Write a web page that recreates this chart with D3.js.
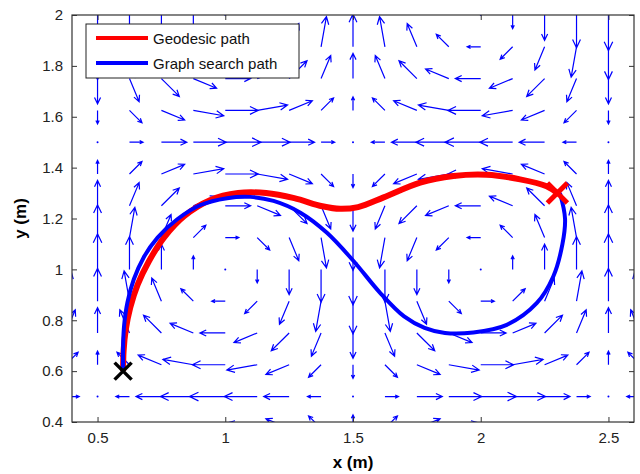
<!DOCTYPE html>
<html>
<head>
<meta charset="utf-8">
<script src="https://cdn.jsdelivr.net/npm/d3@7"></script>
<style>
  body { margin: 0; background: #fff; }
  text { font-family: "Liberation Sans", Arial, sans-serif; }
</style>
</head>
<body>
<div id="wrapper"></div>
<script>
// quiver grid
const gridX = [0.375, 0.5, 0.625, 0.75, 0.875, 1, 1.125, 1.25, 1.375, 1.5, 1.625, 1.75, 1.875, 2, 2.125, 2.25, 2.375, 2.5, 2.625]
const gridY = [0.375, 0.5, 0.625, 0.75, 0.875, 1, 1.125, 1.25, 1.375, 1.5, 1.625, 1.75, 1.875, 2]

// u component, one row per gridY value
const fieldU = [
  [0.35,0,-0.35,-0.65,-0.85,-0.92,-0.85,-0.65,-0.35,0,0.35,0.65,0.85,0.92,0.85,0.65,0.35,0,-0.35],
  [0.38,0,-0.38,-0.71,-0.92,-1,-0.92,-0.71,-0.38,0,0.38,0.71,0.92,1,0.92,0.71,0.38,0,-0.38],
  [0.35,0,-0.35,-0.65,-0.85,-0.92,-0.85,-0.65,-0.35,0,0.35,0.65,0.85,0.92,0.85,0.65,0.35,0,-0.35],
  [0.27,0,-0.27,-0.5,-0.65,-0.71,-0.65,-0.5,-0.27,0,0.27,0.5,0.65,0.71,0.65,0.5,0.27,0,-0.27],
  [0.15,0,-0.15,-0.27,-0.35,-0.38,-0.35,-0.27,-0.15,0,0.15,0.27,0.35,0.38,0.35,0.27,0.15,0,-0.15],
  [0,0,0,0,0,0,0,0,0,0,0,0,0,0,0,0,0,0,0],
  [-0.15,0,0.15,0.27,0.35,0.38,0.35,0.27,0.15,0,-0.15,-0.27,-0.35,-0.38,-0.35,-0.27,-0.15,0,0.15],
  [-0.27,0,0.27,0.5,0.65,0.71,0.65,0.5,0.27,0,-0.27,-0.5,-0.65,-0.71,-0.65,-0.5,-0.27,0,0.27],
  [-0.35,0,0.35,0.65,0.85,0.92,0.85,0.65,0.35,0,-0.35,-0.65,-0.85,-0.92,-0.85,-0.65,-0.35,0,0.35],
  [-0.38,0,0.38,0.71,0.92,1,0.92,0.71,0.38,0,-0.38,-0.71,-0.92,-1,-0.92,-0.71,-0.38,0,0.38],
  [-0.35,0,0.35,0.65,0.85,0.92,0.85,0.65,0.35,0,-0.35,-0.65,-0.85,-0.92,-0.85,-0.65,-0.35,0,0.35],
  [-0.27,0,0.27,0.5,0.65,0.71,0.65,0.5,0.27,0,-0.27,-0.5,-0.65,-0.71,-0.65,-0.5,-0.27,0,0.27],
  [-0.15,0,0.15,0.27,0.35,0.38,0.35,0.27,0.15,0,-0.15,-0.27,-0.35,-0.38,-0.35,-0.27,-0.15,0,0.15],
  [0,0,0,0,0,0,0,0,0,0,0,0,0,0,0,0,0,0,0]
]

// v component, one row per gridY value
const fieldV = [
  [-0.35,-0.38,-0.35,-0.27,-0.15,0,0.15,0.27,0.35,0.38,0.35,0.27,0.15,0,-0.15,-0.27,-0.35,-0.38,-0.35],
  [0,0,0,0,0,0,0,0,0,0,0,0,0,0,0,0,0,0,0],
  [0.35,0.38,0.35,0.27,0.15,0,-0.15,-0.27,-0.35,-0.38,-0.35,-0.27,-0.15,0,0.15,0.27,0.35,0.38,0.35],
  [0.65,0.71,0.65,0.5,0.27,0,-0.27,-0.5,-0.65,-0.71,-0.65,-0.5,-0.27,0,0.27,0.5,0.65,0.71,0.65],
  [0.85,0.92,0.85,0.65,0.35,0,-0.35,-0.65,-0.85,-0.92,-0.85,-0.65,-0.35,0,0.35,0.65,0.85,0.92,0.85],
  [0.92,1,0.92,0.71,0.38,0,-0.38,-0.71,-0.92,-1,-0.92,-0.71,-0.38,0,0.38,0.71,0.92,1,0.92],
  [0.85,0.92,0.85,0.65,0.35,0,-0.35,-0.65,-0.85,-0.92,-0.85,-0.65,-0.35,0,0.35,0.65,0.85,0.92,0.85],
  [0.65,0.71,0.65,0.5,0.27,0,-0.27,-0.5,-0.65,-0.71,-0.65,-0.5,-0.27,0,0.27,0.5,0.65,0.71,0.65],
  [0.35,0.38,0.35,0.27,0.15,0,-0.15,-0.27,-0.35,-0.38,-0.35,-0.27,-0.15,0,0.15,0.27,0.35,0.38,0.35],
  [0,0,0,0,0,0,0,0,0,0,0,0,0,0,0,0,0,0,0],
  [-0.35,-0.38,-0.35,-0.27,-0.15,0,0.15,0.27,0.35,0.38,0.35,0.27,0.15,0,-0.15,-0.27,-0.35,-0.38,-0.35],
  [-0.65,-0.71,-0.65,-0.5,-0.27,0,0.27,0.5,0.65,0.71,0.65,0.5,0.27,0,-0.27,-0.5,-0.65,-0.71,-0.65],
  [-0.85,-0.92,-0.85,-0.65,-0.35,0,0.35,0.65,0.85,0.92,0.85,0.65,0.35,0,-0.35,-0.65,-0.85,-0.92,-0.85],
  [-0.92,-1,-0.92,-0.71,-0.38,0,0.38,0.71,0.92,1,0.92,0.71,0.38,0,-0.38,-0.71,-0.92,-1,-0.92]
]

const geodesicPath = [
  [0.6,0.6],[0.602,0.68],[0.61,0.76],[0.628,0.85],[0.657,0.94],[0.7,1.03],[0.76,1.125],[0.84,1.21],
  [0.94,1.272],[1.05,1.3],[1.16,1.3],[1.27,1.28],[1.38,1.248],[1.45,1.238],[1.52,1.245],[1.62,1.283],
  [1.763,1.341],[1.893,1.367],[2.023,1.372],[2.154,1.354],[2.258,1.327],[2.3,1.3]
]
const graphSearchPath = [
  [0.6,0.6],[0.6,0.7],[0.604,0.78],[0.617,0.87],[0.642,0.961],[0.681,1.048],[0.735,1.125],
  [0.812,1.197],[0.903,1.253],[1.007,1.28],[1.098,1.285],[1.189,1.269],[1.294,1.223],[1.398,1.144],
  [1.502,1.033],[1.606,0.908],[1.7,0.815],[1.78,0.77],[1.86,0.75],[1.971,0.752],[2.102,0.782],
  [2.219,0.867],[2.284,0.972],[2.32,1.1],[2.33,1.2],[2.31,1.3]
]
const startPoint = [0.6, 0.6]
const goalPoint = [2.3, 1.3]

const xTicks = [0.5, 1, 1.5, 2, 2.5]
const yTicks = [0.4, 0.6, 0.8, 1, 1.2, 1.4, 1.6, 1.8, 2]
const legendLabels = ["Geodesic path", "Graph search path"]
const legendColors = ["#ff0000", "#0000ff"]

const dimensions = {
  width: 640,
  height: 474,
  margin: { top: 15, right: 6, bottom: 52, left: 72 }
}
dimensions.boundedWidth = dimensions.width - dimensions.margin.left - dimensions.margin.right
dimensions.boundedHeight = dimensions.height - dimensions.margin.top - dimensions.margin.bottom

const xScale = d3.scaleLinear()
  .domain([0.4, 2.6])
  .range([0, dimensions.boundedWidth])
const yScale = d3.scaleLinear()
  .domain([0.4, 2])
  .range([dimensions.boundedHeight, 0])

const svg = d3.select("#wrapper")
  .append("svg")
    .attr("width", dimensions.width)
    .attr("height", dimensions.height)

svg.append("defs").append("clipPath")
    .attr("id", "plot-clip")
  .append("rect")
    .attr("width", dimensions.boundedWidth)
    .attr("height", dimensions.boundedHeight)

const bounds = svg.append("g")
  .attr("transform", `translate(${dimensions.margin.left},${dimensions.margin.top})`)

// quiver
const arrowScale = 0.14
const arrows = []
gridY.forEach((y, j) => {
  gridX.forEach((x, i) => {
    arrows.push({ x, y, u: fieldU[j][i], v: fieldV[j][i] })
  })
})

const quiver = bounds.append("g")
  .attr("clip-path", "url(#plot-clip)")

function arrowPath(d) {
  const x0 = xScale(d.x), y0 = yScale(d.y)
  const x1 = xScale(d.x + arrowScale * d.u), y1 = yScale(d.y + arrowScale * d.v)
  const dx = x1 - x0, dy = y1 - y0
  const back = 0.25, side = 0.12
  const hx1 = x1 - back * dx - side * dy, hy1 = y1 - back * dy + side * dx
  const hx2 = x1 - back * dx + side * dy, hy2 = y1 - back * dy - side * dx
  return `M${x0},${y0}L${x1},${y1}M${hx1},${hy1}L${x1},${y1}L${hx2},${hy2}`
}

quiver.selectAll("path")
  .data(arrows.filter(d => d.u !== 0 || d.v !== 0))
  .enter().append("path")
    .attr("d", arrowPath)
    .attr("fill", "none")
    .attr("stroke", "#0000ff")
    .attr("stroke-width", 1.2)

quiver.selectAll("circle")
  .data(arrows.filter(d => d.u === 0 && d.v === 0))
  .enter().append("circle")
    .attr("cx", d => xScale(d.x))
    .attr("cy", d => yScale(d.y))
    .attr("r", 1)
    .attr("fill", "#0000ff")

// paths
const line = d3.line()
  .x(d => xScale(d[0]))
  .y(d => yScale(d[1]))
  .curve(d3.curveCatmullRom)

bounds.append("path")
  .datum(geodesicPath)
    .attr("d", line)
    .attr("fill", "none")
    .attr("stroke", legendColors[0])
    .attr("stroke-width", 6)
    .attr("stroke-linejoin", "round")

bounds.append("path")
  .datum(graphSearchPath)
    .attr("d", line)
    .attr("fill", "none")
    .attr("stroke", legendColors[1])
    .attr("stroke-width", 4)
    .attr("stroke-linejoin", "round")

function drawCross(point, size, color, width) {
  const cx = xScale(point[0]), cy = yScale(point[1])
  bounds.append("path")
    .attr("d", `M${cx - size},${cy - size}L${cx + size},${cy + size}M${cx - size},${cy + size}L${cx + size},${cy - size}`)
    .attr("stroke", color)
    .attr("stroke-width", width)
}
drawCross(goalPoint, 10, "#ff0000", 5)
drawCross(startPoint, 8.5, "#000000", 3.5)

// axes (ticks inside, box on)
const axisColor = "#333"
const xAxis = d3.axisBottom(xScale).tickValues(xTicks).tickSize(-5).tickPadding(10).tickFormat(d3.format("~g"))
const yAxis = d3.axisLeft(yScale).tickValues(yTicks).tickSize(-5).tickPadding(9).tickFormat(d3.format("~g"))

bounds.append("g")
  .attr("transform", `translate(0,${dimensions.boundedHeight})`)
  .call(xAxis)
bounds.append("g").call(yAxis)
bounds.append("g")
  .call(d3.axisTop(xScale).tickValues(xTicks).tickSize(-5).tickFormat(""))
bounds.append("g")
  .attr("transform", `translate(${dimensions.boundedWidth},0)`)
  .call(d3.axisRight(yScale).tickValues(yTicks).tickSize(-5).tickFormat(""))

bounds.selectAll(".domain").remove()
bounds.selectAll(".tick line").attr("stroke", axisColor)
bounds.selectAll(".tick text")
  .attr("fill", "#222")
  .style("font-size", "15px")

bounds.append("rect")
  .attr("width", dimensions.boundedWidth)
  .attr("height", dimensions.boundedHeight)
  .attr("fill", "none")
  .attr("stroke", axisColor)
  .attr("stroke-width", 1.2)

svg.append("text")
  .attr("x", dimensions.margin.left + xScale(1.5))
  .attr("y", 468)
  .attr("text-anchor", "middle")
  .style("font-size", "17px")
  .style("font-weight", "bold")
  .text("x (m)")

svg.append("text")
  .attr("transform", `translate(26,${dimensions.margin.top + dimensions.boundedHeight / 2}) rotate(-90)`)
  .attr("text-anchor", "middle")
  .style("font-size", "17px")
  .style("font-weight", "bold")
  .text("y (m)")

// legend
const legend = svg.append("g")
legend.append("rect")
  .attr("x", 86)
  .attr("y", 24)
  .attr("width", 213)
  .attr("height", 54)
  .attr("fill", "#fff")
  .attr("stroke", "#222")
  .attr("stroke-width", 1)

const legendItems = legend.selectAll("g.item")
  .data(legendLabels)
  .enter().append("g")
    .attr("class", "item")
    .attr("transform", (d, i) => `translate(0,${38 + i * 25})`)

legendItems.append("line")
  .attr("x1", 96)
  .attr("x2", 148)
  .attr("stroke", (d, i) => legendColors[i])
  .attr("stroke-width", 4)

legendItems.append("text")
  .attr("x", 153)
  .attr("y", 5.5)
  .attr("fill", "#111")
  .style("font-size", "15px")
  .text(d => d)
</script>
</body>
</html>
